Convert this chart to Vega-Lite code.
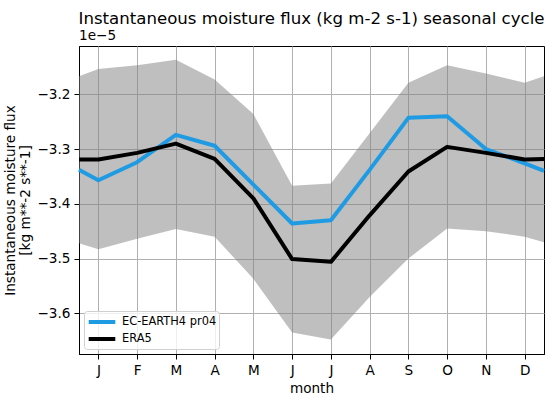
{
  "$schema": "https://vega.github.io/schema/vega-lite/v6.json",
  "width": 465,
  "height": 308,
  "autosize": "none",
  "padding": {"left": 79, "top": 46, "right": 11, "bottom": 52},
  "background": "white",
  "title": {
    "text": "Instantaneous moisture flux (kg m-2 s-1) seasonal cycle",
    "anchor": "middle",
    "frame": "group",
    "fontSize": 16.6,
    "fontWeight": "normal",
    "font": "DejaVu Sans",
    "color": "black",
    "offset": 1
  },
  "datasets": {
    "band": [
      {"month": 0.5, "hi": -3.167, "lo": -3.472},
      {"month": 1, "hi": -3.154, "lo": -3.483},
      {"month": 2, "hi": -3.147, "lo": -3.464},
      {"month": 3, "hi": -3.137, "lo": -3.446},
      {"month": 4, "hi": -3.173, "lo": -3.460},
      {"month": 5, "hi": -3.236, "lo": -3.537},
      {"month": 6, "hi": -3.367, "lo": -3.635},
      {"month": 7, "hi": -3.363, "lo": -3.648},
      {"month": 8, "hi": -3.271, "lo": -3.570},
      {"month": 9, "hi": -3.179, "lo": -3.500},
      {"month": 10, "hi": -3.147, "lo": -3.445},
      {"month": 11, "hi": -3.162, "lo": -3.450},
      {"month": 12, "hi": -3.179, "lo": -3.460},
      {"month": 12.5, "hi": -3.167, "lo": -3.470}
    ],
    "lines": [
      {"month": 0.5, "model": "EC-EARTH4 pr04", "flux": -3.338},
      {"month": 1, "model": "EC-EARTH4 pr04", "flux": -3.357},
      {"month": 2, "model": "EC-EARTH4 pr04", "flux": -3.324},
      {"month": 3, "model": "EC-EARTH4 pr04", "flux": -3.274},
      {"month": 4, "model": "EC-EARTH4 pr04", "flux": -3.294},
      {"month": 5, "model": "EC-EARTH4 pr04", "flux": -3.365},
      {"month": 6, "model": "EC-EARTH4 pr04", "flux": -3.436},
      {"month": 7, "model": "EC-EARTH4 pr04", "flux": -3.430},
      {"month": 8, "model": "EC-EARTH4 pr04", "flux": -3.338},
      {"month": 9, "model": "EC-EARTH4 pr04", "flux": -3.243},
      {"month": 10, "model": "EC-EARTH4 pr04", "flux": -3.240},
      {"month": 11, "model": "EC-EARTH4 pr04", "flux": -3.300},
      {"month": 12, "model": "EC-EARTH4 pr04", "flux": -3.326},
      {"month": 12.5, "model": "EC-EARTH4 pr04", "flux": -3.340},
      {"month": 0.5, "model": "ERA5", "flux": -3.319},
      {"month": 1, "model": "ERA5", "flux": -3.319},
      {"month": 2, "model": "ERA5", "flux": -3.307},
      {"month": 3, "model": "ERA5", "flux": -3.290},
      {"month": 4, "model": "ERA5", "flux": -3.318},
      {"month": 5, "model": "ERA5", "flux": -3.390},
      {"month": 6, "model": "ERA5", "flux": -3.501},
      {"month": 7, "model": "ERA5", "flux": -3.506},
      {"month": 8, "model": "ERA5", "flux": -3.421},
      {"month": 9, "model": "ERA5", "flux": -3.341},
      {"month": 10, "model": "ERA5", "flux": -3.296},
      {"month": 11, "model": "ERA5", "flux": -3.307},
      {"month": 12, "model": "ERA5", "flux": -3.319},
      {"month": 12.5, "model": "ERA5", "flux": -3.318}
    ]
  },
  "layer": [
    {
      "data": {"name": "band"},
      "mark": {"type": "area", "color": "gray", "opacity": 0.5},
      "encoding": {
        "x": {
          "field": "month",
          "type": "quantitative",
          "scale": {"domain": [0.5, 12.5], "nice": false, "zero": false},
          "axis": {
            "title": "month",
            "values": [1, 2, 3, 4, 5, 6, 7, 8, 9, 10, 11, 12],
            "labelExpr": "['J','F','M','A','M','J','J','A','S','O','N','D'][datum.value - 1]",
            "grid": true
          }
        },
        "y": {
          "field": "hi",
          "type": "quantitative",
          "scale": {"domain": [-3.6743, -3.1118], "nice": false, "zero": false},
          "axis": {
            "title": ["Instantaneous moisture flux", "[kg m**-2 s**-1]"],
            "values": [-3.6, -3.5, -3.4, -3.3, -3.2],
            "format": ".1f",
            "grid": true
          }
        },
        "y2": {"field": "lo"}
      }
    },
    {
      "data": {"name": "lines"},
      "mark": {"type": "line", "strokeWidth": 4, "strokeJoin": "round"},
      "encoding": {
        "x": {"field": "month", "type": "quantitative"},
        "y": {"field": "flux", "type": "quantitative"},
        "color": {
          "field": "model",
          "type": "nominal",
          "scale": {"domain": ["EC-EARTH4 pr04", "ERA5"], "range": ["#1f9be4", "black"]},
          "legend": {
            "title": null,
            "orient": "bottom-left",
            "offset": 5,
            "padding": 2,
            "rowPadding": 0,
            "symbolType": "M-1.9,0H1.9",
            "symbolSize": 196,
            "symbolOffset": 7,
            "symbolStrokeWidth": 4,
            "labelOffset": 11,
            "labelFontSize": 11.4,
            "labelFont": "DejaVu Sans",
            "labelColor": "black",
            "fillColor": "rgba(255,255,255,0.8)",
            "strokeColor": "#d0d0d0",
            "cornerRadius": 3
          }
        }
      }
    },
    {
      "data": {"values": [{"label": "1e−5"}]},
      "mark": {"type": "text", "align": "left", "baseline": "bottom", "dy": -3, "fontSize": 13.6, "font": "DejaVu Sans", "color": "black"},
      "encoding": {
        "x": {"datum": 0.5},
        "y": {"datum": -3.1118},
        "text": {"field": "label"}
      }
    }
  ],
  "config": {
    "view": {"stroke": "black", "strokeWidth": 1},
    "font": "DejaVu Sans",
    "axis": {
      "domainColor": "black",
      "tickColor": "black",
      "tickSize": 5,
      "labelFontSize": 13.6,
      "labelFont": "DejaVu Sans",
      "labelColor": "black",
      "labelPadding": 4,
      "titleFont": "DejaVu Sans",
      "titleFontSize": 13.6,
      "titleFontWeight": "normal",
      "titleColor": "black",
      "gridColor": "#b0b0b0",
      "gridWidth": 1
    },
    "axisY": {"titlePadding": 4},
    "axisX": {"titlePadding": 5}
  }
}
